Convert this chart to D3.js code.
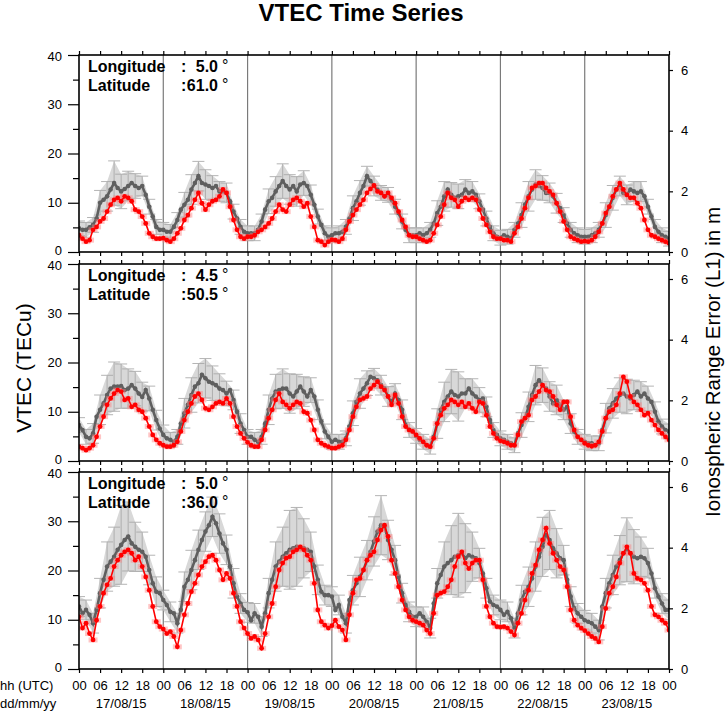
<!DOCTYPE html>
<html><head><meta charset="utf-8">
<script src="https://cdn.jsdelivr.net/npm/d3@7"></script>
<style>body{margin:0;background:#fff}svg{display:block;font-family:"Liberation Sans",Arial,Helvetica,sans-serif}</style>
</head><body><svg id="c" width="728" height="711"></svg>
<script>
// ---------- data ----------
const dayLabels = ["17/08/15","18/08/15","19/08/15","20/08/15","21/08/15","22/08/15","23/08/15"];
const hourTicks = [0,6,12,18,24,30,36,42,48,54,60,66,72,78,84,90,96,102,108,114,120,126,132,138,144,150,156,162,168];
const yTicks = [0,10,20,30,40];
const yMinorTicks = [5,15,25,35];
const mTicks = [0,2,4,6];
const panelLon = ["5.0","4.5","5.0"];
const panelLat = ["61.0","50.5","36.0"];

// hourly VTEC (TECu), 17/08 00h .. 24/08 00h
const p1Gray = [4.8,4.5,4.5,5.0,5.5,6.8,10,10.6,11.3,12.7,14,13,12.3,12.8,13.4,14,13.4,13,13.4,11.6,9.2,7.2,5.1,4.5,
 4.5,4.1,4.1,5.1,6.5,8.6,9.6,10.6,12.7,14,15.4,14,13.7,13.4,13,13.4,12.3,12.3,12,10.3,8.2,6.8,5.1,4.1,
 3.8,3.8,3.8,4.5,6.2,8.6,10.3,11,12.3,13.4,14.4,13.4,12.7,13.4,12.3,13.7,14,13.4,11.6,9.6,7.2,5.5,3.8,3.1,
 3.4,3.8,3.8,4.1,5.1,6.8,8.9,10.3,12,13.4,15.4,14.4,13.4,12.7,12,11.3,11.6,10.6,9.2,7.9,6.2,4.5,3.4,3.4,
 3.4,3.8,3.4,3.8,4.5,5.8,7.9,9.2,11.3,12.7,11.6,11,11.3,11.6,12.7,12,12.3,11.6,10.3,8.6,6.8,5.1,3.8,3.1,
 2.9,3.4,3.1,2.7,4.5,5.8,7.5,9.6,11.3,12.7,13.7,13.4,13,12,12,11.3,9.9,8.9,7.5,5.8,4.5,3.8,3.4,3.1,
 3.1,3.1,3.4,3.8,4.5,5.8,7.5,9.2,11,12.7,13.4,12,11.6,12.7,12.3,12,12.3,11.3,9.2,7.2,5.1,4.1,3.4,3.1,
 2.7];
const p1Red = [3.4,2.7,2.1,2.4,4.5,5.1,6.2,6.8,8.2,9.6,10.6,11,10.3,11.3,11,10.3,8.6,8.2,7.2,5.8,3.8,3.1,2.7,2.7,
 2.8,2.4,2.1,2.7,3.8,4.8,6.5,7.5,8.9,10.6,12,9.9,8.6,9.6,10.3,10.6,11.3,12.7,12,9.2,6.5,4.5,3.1,2.7,
 3.1,3.1,3.4,4.1,4.5,5.1,5.8,6.8,8.2,9.6,8.6,8.2,9.6,10.6,11,10.3,9.2,9.9,7.2,5.1,2.4,2.1,1.4,2.1,
 2.5,2.4,2.1,2.7,4.5,6.2,7.5,8.6,9.6,10.6,12,12.8,13.5,12.3,12,11.3,12,11,9.9,8.2,6.5,5.1,3.4,3.1,
 3.1,2.7,2.4,2.1,2.4,3.8,5.5,7.2,9.6,12,11,10.6,9.2,10.3,11,10.6,11,10.6,8.6,6.8,5.5,4.1,3.1,2.7,
 2.7,2.4,2.4,2.1,3.8,5.1,6.8,8.9,11,13,13.4,14,14,13,12.3,11.6,9.9,8.2,6.2,4.5,3.1,2.7,2.4,2.1,
 2.2,2.1,2.4,3.1,4.1,5.8,7.9,9.2,11.3,12.7,14,12.7,11.6,11,11,9.9,8.9,6.5,4.5,3.4,3.1,2.7,2.4,2.1,
 1.8];
const p2Gray = [7.3,6.3,4.9,4.6,5.6,9,10.4,11.7,13.4,14.7,15.1,15.1,15.2,14.4,14.7,15.4,14.7,13.7,13,14.4,12.7,10.4,8.3,6.6,
 5.3,4.6,4.3,3.9,4.9,7.6,9.7,11.4,13.4,15.1,15.8,17.5,16.8,16.1,15.8,15.4,14.7,14.4,13.7,14.4,12.4,10,7.6,6.3,
 4.9,4.9,4.3,3.9,4.9,7.6,10.4,12.7,14.1,14.4,14.7,14.7,13.7,13.1,14.1,15.1,14.1,13.1,14.4,13.1,10.4,8,6,4.9,
 3.9,4.3,3.9,3.9,4.6,7,9.7,12,13.7,14.7,15.8,17.1,16.8,16.4,15.4,14.7,13.1,12,13.7,12.4,10.4,7.3,6.3,6,
 5.1,4.3,3.9,3.2,2.9,4.9,7.6,10.4,12,13.1,14.1,13.4,13.1,13.7,13.7,14.7,13.7,13.1,12.4,12.7,11,8.3,6.3,5.3,
 4.6,4.3,3.9,3.6,3.2,5.6,7.3,8.7,11,13.4,15.4,16.4,15.4,14.7,13.1,11.7,12.4,11.4,10.4,11,7.6,6,4.9,4.3,
 3.9,3.6,3.6,3.2,3.6,6.3,8.7,10.7,11.7,12.7,13.4,13.7,13.1,12.7,13.4,14.1,13.1,13.7,12.7,12,10,8,7,6.3,
 6];
const p2Red = [2.9,2.6,2.2,2.6,3.2,4.9,7,9,11.4,12.7,13.7,14.4,14.1,12.4,12.7,11,11.4,10.4,10,8.7,7,5.3,4.3,3.6,
 3.2,2.9,2.9,3.2,3.9,6,8.3,10,11.7,13.1,13.7,12.4,10.7,10.4,11,11.7,12,11.7,12.7,11.7,9,7,5.6,4.6,
 3.8,3.2,2.9,2.9,4.3,6.3,8.7,10.4,12.4,13.7,12,11.4,10.7,11.4,12,11.7,10,9.7,8.3,6.3,4.3,3.6,3.2,2.9,
 2.6,2.6,2.9,3.2,4.3,6.3,9,11,12.4,12.7,13.1,14.7,15.4,16.1,15.1,14.4,13.1,11.4,13.4,11.7,9,7,6.3,6,
 5.3,4.6,3.9,3.2,2.9,4.6,7.6,9.3,10.7,11.4,12.4,12,11.4,12,11,11.7,10.7,10,12,11.7,9.3,7,5.6,4.6,
 4.1,3.9,3.6,3.2,3.2,5.3,8,8.7,9.3,12.4,13.1,14.1,15.4,14.4,14.1,13.1,11.4,10.4,12,12,9,6.3,4.9,4.3,
 3.6,3.2,3,3.2,3.9,6,8.7,10,10.4,11.4,13.7,17.1,16.1,13.1,12,11.4,10.4,9.3,9.7,8.3,7.3,6.3,5.6,4.9,
 4.3];
const p3Gray = [12.7,11.3,12,11,9.3,12,15.4,18.1,20.8,21.8,22.8,24.2,25.2,26.2,26.9,25.5,24.8,24.2,23.8,22.8,20.1,17.4,15.7,15.4,
 14,13,11.6,11.3,9.3,12,16.7,18.1,20.1,22.1,24.2,26.2,27.9,29.2,30.9,29.6,27.5,25.5,24.2,20.8,17.4,14.7,13.3,12,
 11.5,9.9,11.3,10.6,8.6,11.3,15.4,18.1,20.8,21.8,22.8,23.5,24.2,24.5,24.8,24.5,24.5,24.2,23.8,20.8,18.1,15.7,15,15,
 14.7,12,13,10.6,9.3,14,16,17.4,18.7,20.1,22.1,23.8,25.9,27.9,29.2,28.9,26.2,24.2,22.1,18.7,15.4,13,11.6,10.6,
 10.6,11.3,10.6,9.6,8.3,13.3,17.4,19.1,20.8,21.5,22.1,22.8,23.1,23.5,22.5,23.1,22.8,22.5,21.5,19.4,16.4,13.7,13,12.7,
 12,11,11.6,10.3,8.3,11.3,14,15.7,16.7,18.4,20.8,22.8,24.8,27.2,26.2,24.5,23.5,22.5,22.1,18.1,14.7,12.3,11.3,10.6,
 9.9,9.6,9.3,8.6,7.9,12.7,15.4,17.4,19.1,20.8,22.1,23.5,24.2,23.5,22.8,22.5,22.8,22.5,21.5,19.4,16.4,14.7,13.3,12,
 12];
const p3Red = [10.6,8.3,9.3,7.2,5.9,9.9,12.7,15.4,17.1,18.4,20.8,22.1,23.1,23.8,24.2,23.5,22.1,22.8,20.8,18.7,16,12.7,9.6,8.6,
 8.1,7.2,7.6,6.6,4.5,7.9,11,13.3,15.7,17.4,19.1,20.8,21.8,22.8,23.1,22.1,20.1,18.1,19.4,18.4,15.4,12.7,9.6,8.3,
 7.2,6.2,6.6,5.9,4.2,7.2,10.6,13.3,16.7,20.1,21.5,22.5,22.8,23.8,24.2,24.8,24.2,23.1,22.1,17.4,12,9.6,8.9,8.3,
 8.8,9.9,8.6,7.9,5.9,11,15.4,18.1,18.4,20.1,22.1,23.1,23.8,26.2,28.2,29.2,26.9,22.1,19.4,16.7,14,12,10.6,9.9,
 9.6,9.3,8.9,7.9,7.2,11.3,15,15.4,15.7,16.7,18.1,20.8,22.8,23.8,21.5,20.4,21.5,22.1,22.1,18.1,12.7,10.6,9.3,8.6,
 8.5,8.6,8.3,7.6,6.9,9.3,11.3,14,16,19.4,21.1,24.2,26.2,28.6,25.5,23.5,22.1,20.8,20.1,16.7,12,9.9,8.9,8.3,
 7.8,7.2,6.6,6.2,5.5,8.6,12.3,15.4,16.7,18.7,21.5,23.5,24.8,23.5,19.4,18.4,18.1,17.4,16,12.7,11,10.6,9.9,9.3,
 7.9];
// 2-hourly half-width of gray error bars (TECu)
const p1Err = [1.5,1.5,1.5,2.5,3,4.5,3.5,3,2.5,2,1.5,1.5,
 1.5,1.5,1.5,2.5,3,3,3,2.5,2,2,1.5,1.5,
 1.5,1.5,1.5,2.5,3,3.5,3,3,2.5,2,1.5,1.5,
 1.5,1.5,1.5,2.5,2.5,2,2,1.5,1.5,1.5,1.5,1.5,
 1.5,1.5,1.5,2.5,3,2.5,2.5,2,2,1.5,1.5,1.5,
 1.5,1.5,1.5,2.5,3,3,2.5,2,2,1.5,1.5,1.5,
 1.5,1.5,1.5,2.5,2.5,2,2,2,2,1.5,1.5,1.5,
 1.5];
const p2Err = [1.5,1.5,2,3,4,5,4.5,4,3.5,3,2.5,2,
 2,1.5,1.5,3,3.5,4,4,3.5,3,2.5,2,2,
 1.5,1.5,1.5,3,3.5,4,4,3.5,3,2.5,2,1.5,
 1.5,1.5,1.5,2.5,3,2.5,2,2,2,2,2,1.5,
 1.5,1.5,1.5,3,4,4.5,5,3,3,2.5,2,1.5,
 1.5,1.5,1.5,2.5,3,4,3.5,3,3,2,2,1.5,
 1.5,1.5,1.5,3,3,3.5,3.5,3,3,2.5,2,1.5,
 1.5];
const p3Err = [2,2,2,3,5,6,8,7,5,4,3,3,
 2,2,2,3,4,4,4,4,4,3,3,2,
 2,2,2,3,5,6,8,8,6,4,3,2,
 2,2,2,3,4,4,5,6,4,3,2,2,
 2,2,2,3,5,7,8.5,7,5,3,2,2,
 2,2,2,3,4,5,6,6,5,3,2,2,
 2,2,2,3,4,5,6.5,5.5,4,3,2,2,
 2];

const panels = [
  {lon: panelLon[0], lat: panelLat[0], gray: p1Gray, red: p1Red, err: p1Err},
  {lon: panelLon[1], lat: panelLat[1], gray: p2Gray, red: p2Red, err: p2Err},
  {lon: panelLon[2], lat: panelLat[2], gray: p3Gray, red: p3Red, err: p3Err}
];

// ---------- drawing ----------
const svg = d3.select("#c");
const L = 79, R = 669, PH = 197, tops = [55, 264, 472];
const M_PER_TECU = 0.16237;
const x = d3.scaleLinear().domain([0, 168]).range([L, R]);
const fmtHour = h => d3.format("02d")(h % 24);

svg.append("text").attr("x", 361).attr("y", 21).attr("text-anchor", "middle")
  .attr("font-size", 24).attr("font-weight", "bold").text("VTEC Time Series");

panels.forEach((p, pi) => {
  const top = tops[pi], bot = top + PH;
  const y = d3.scaleLinear().domain([0, 40]).range([bot, top]);
  const yr = d3.scaleLinear().domain([0, 40 * M_PER_TECU]).range([bot, top]);
  const cid = "clip" + pi;
  svg.append("clipPath").attr("id", cid).append("rect")
    .attr("x", L).attr("y", top).attr("width", R - L).attr("height", PH);
  const g = svg.append("g");
  const pg = g.append("g").attr("clip-path", `url(#${cid})`);

  // day separators
  pg.selectAll("line.day").data(d3.range(1, 7)).join("line")
    .attr("x1", d => x(d * 24)).attr("x2", d => x(d * 24))
    .attr("y1", top).attr("y2", bot).attr("stroke", "#7a7a7a").attr("stroke-width", 1.2);

  // error band
  const ed = p.err.map((e, k) => ({h: 2 * k, v: p.gray[2 * k], e}));
  pg.append("path").datum(ed)
    .attr("d", d3.area().x(d => x(d.h)).y0(d => y(d.v - d.e)).y1(d => y(d.v + d.e)))
    .attr("fill", "#d8d8d8");
  // vertical bars + caps
  const eb = pg.append("g").attr("stroke", "#a8a8a8").attr("stroke-width", 1).attr("opacity", 0.85);
  eb.selectAll("line.v").data(ed).join("line")
    .attr("x1", d => x(d.h)).attr("x2", d => x(d.h))
    .attr("y1", d => y(d.v - d.e)).attr("y2", d => y(d.v + d.e));
  eb.selectAll("line.t").data(ed).join("line")
    .attr("x1", d => x(d.h) - 6).attr("x2", d => x(d.h) + 6)
    .attr("y1", d => y(d.v + d.e)).attr("y2", d => y(d.v + d.e));
  eb.selectAll("line.b").data(ed).join("line")
    .attr("x1", d => x(d.h) - 6).attr("x2", d => x(d.h) + 6)
    .attr("y1", d => y(d.v - d.e)).attr("y2", d => y(d.v - d.e));

  // gray series
  const gd = p.gray.map((v, i) => ({h: i, v}));
  const line = d3.line().x(d => x(d.h)).y(d => y(d.v));
  pg.append("path").datum(gd).attr("d", line).attr("fill", "none")
    .attr("stroke", "#5f5f5f").attr("stroke-width", 2.6);
  pg.selectAll("circle.g").data(gd).join("circle")
    .attr("cx", d => x(d.h)).attr("cy", d => y(d.v)).attr("r", 2.3).attr("fill", "#5f5f5f");

  // red series
  const rd = p.red.map((v, i) => ({h: i, v}));
  pg.selectAll("line.rc").data(rd).join("line")
    .attr("x1", d => x(d.h) - 4.5).attr("x2", d => x(d.h) + 4.5)
    .attr("y1", d => y(d.v)).attr("y2", d => y(d.v))
    .attr("stroke", "#ff8080").attr("stroke-width", 5).attr("opacity", 0.45);
  pg.append("path").datum(rd).attr("d", line).attr("fill", "none")
    .attr("stroke", "#ff0000").attr("stroke-width", 1.6);
  pg.selectAll("circle.r").data(rd).join("circle")
    .attr("cx", d => x(d.h)).attr("cy", d => y(d.v)).attr("r", 2.4).attr("fill", "#ff0000");

  // frame
  g.append("rect").attr("x", L).attr("y", top).attr("width", R - L).attr("height", PH)
    .attr("fill", "none").attr("stroke", "#000").attr("stroke-width", 1.6);

  const styleAxis = sel => {
    sel.select(".domain").remove();
    sel.selectAll("line").attr("stroke", "#000").attr("stroke-width", 1.2);
    sel.selectAll("text").attr("font-size", 13).attr("fill", "#000")
      .attr("font-family", '"Liberation Sans",Arial,sans-serif');
  };
  const ya = g.append("g").attr("transform", `translate(${L},0)`)
    .call(d3.axisLeft(y).tickValues(yTicks).tickSize(11).tickPadding(6)).call(styleAxis);
  // nudge end labels so neighbouring panels' 0 / 40 do not collide
  ya.selectAll(".tick text").attr("dy", d => d === 0 ? "0.22em" : d === 40 ? "0.42em" : "0.32em");
  g.append("g").attr("transform", `translate(${L},0)`)
    .call(d3.axisLeft(y).tickValues(yMinorTicks).tickSize(6).tickFormat("")).call(styleAxis);
  g.append("g").attr("transform", `translate(${R},0)`)
    .call(d3.axisRight(yr).tickValues(mTicks).tickSize(4).tickPadding(8).tickFormat(d3.format("d"))).call(styleAxis);
  g.append("g").attr("transform", `translate(0,${top})`)
    .call(d3.axisTop(x).tickValues(hourTicks).tickSize(4).tickFormat("")).call(styleAxis);
  g.append("g").attr("transform", `translate(0,${bot})`)
    .call(d3.axisBottom(x).tickValues(hourTicks).tickSize(4).tickPadding(8)
      .tickFormat(pi === 2 ? fmtHour : "")).call(styleAxis);

  // location labels
  const lab = g.append("g").attr("font-size", 16).attr("font-weight", "bold");
  [["Longitude", p.lon, 0], ["Latitude", p.lat, 19]].forEach(([name, val, dy]) => {
    const by = top + 17 + dy;
    lab.append("text").attr("x", 88).attr("y", by).text(name);
    lab.append("text").attr("x", 181).attr("y", by).text(":");
    lab.append("text").attr("x", 218).attr("y", by).attr("text-anchor", "end").text(val);
    lab.append("text").attr("x", 222).attr("y", by - 1).attr("font-weight", "normal").attr("font-size", 16).text("°");
  });
});

// bottom labels
svg.selectAll("text.date").data(dayLabels).join("text")
  .attr("x", (d, i) => x(i * 24 + 12)).attr("y", 708).attr("text-anchor", "middle")
  .attr("font-size", 13).text(d => d);
svg.append("text").attr("x", 0).attr("y", 690).attr("font-size", 13).text("hh (UTC)");
svg.append("text").attr("x", 0).attr("y", 708).attr("font-size", 13).text("dd/mm/yy");

// axis titles
svg.append("text").attr("transform", "translate(31,368) rotate(-90)").attr("text-anchor", "middle")
  .attr("font-size", 21).text("VTEC (TECu)");
svg.append("text").attr("transform", "translate(720,362) rotate(-90)").attr("text-anchor", "middle")
  .attr("font-size", 20.5).text("Ionospheric Range Error (L1) in m");
</script></body></html>
